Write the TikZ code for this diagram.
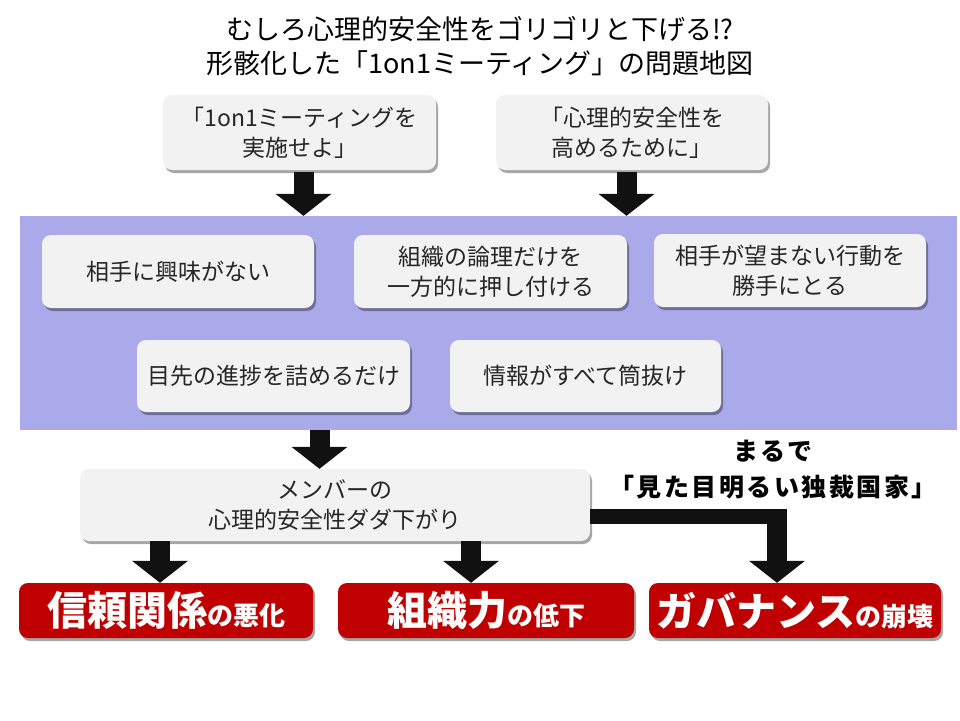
\documentclass[tikz,border=0pt]{standalone}
\usepackage{fontspec}
\newfontfamily\jp{Noto Sans CJK JP}
\newfontfamily\jpspaced[LetterSpace=10]{Noto Sans CJK JP}
\usetikzlibrary{arrows.meta,shadows}
\definecolor{bandcol}{RGB}{170,170,235}
\definecolor{boxgray}{RGB}{242,242,242}
\definecolor{txtgray}{RGB}{38,38,38}
\definecolor{darkred}{RGB}{192,0,0}
\definecolor{arrowblack}{RGB}{17,17,17}
\tikzset{
  softshadow/.style={drop shadow={shadow xshift=2pt, shadow yshift=-3pt, opacity=0.35, fill=black}},
  graybox/.style={fill=boxgray, rounded corners=9pt, softshadow, align=center, text=txtgray,
    font=\jp\fontsize{23}{30}\selectfont, inner sep=0pt},
  redbox/.style={fill=darkred, rounded corners=9pt, softshadow, align=center, text=white,
    font=\jp\bfseries, inner sep=0pt, minimum height=55pt},
  blockarrow/.style={draw=arrowblack, line width=20pt,
    -{Triangle[length=22pt 0 0, width=56pt 0 0, line width=0pt 0 0]}},
}
\newcommand{\bigpart}[1]{{\fontsize{40}{40}\selectfont #1}}
\newcommand{\smallpart}[1]{{\fontsize{26}{26}\selectfont #1}}
\begin{document}
\begin{tikzpicture}[x=1pt,y=-1pt]
\fill[white] (0,0) rectangle (960,720);
\useasboundingbox (0,0) rectangle (960,720);

% title
\node[align=center, font=\jp\fontsize{27}{34}\selectfont, text=black] (title) at (480,46)
  {むしろ心理的安全性をゴリゴリと下げる!?\\形骸化した「1on1ミーティング」の問題地図};

% top boxes
\node[graybox, minimum width=273pt, minimum height=75pt] (A) at (299.5,132.5)
  {「1on1ミーティングを\\実施せよ」};
\node[graybox, minimum width=272pt, minimum height=75pt] (B) at (632,132.5)
  {「心理的安全性を\\高めるために」};

% purple band
\node[fill=bandcol, minimum width=937pt, minimum height=214pt, inner sep=0pt] (band) at (488.5,323) {};

\node[graybox, minimum width=272pt, minimum height=73pt] (C1) at (178,271.5) {相手に興味がない};
\node[graybox, minimum width=273pt, minimum height=73pt] (C2) at (490.5,271.5) {組織の論理だけを\\一方的に押し付ける};
\node[graybox, minimum width=272pt, minimum height=73pt] (C3) at (790,270.5) {相手が望まない行動を\\勝手にとる};
\node[graybox, minimum width=273pt, minimum height=72pt] (C4) at (273.5,376) {目先の進捗を詰めるだけ};
\node[graybox, minimum width=271pt, minimum height=72pt] (C5) at (585.5,376) {情報がすべて筒抜け};

% member box
\node[graybox, minimum width=510pt, minimum height=72pt] (D) at (335,505) {メンバーの\\心理的安全性ダダ下がり};

% annotation
\node[font=\jpspaced\bfseries\fontsize{25}{36}\selectfont, text=black, align=center] (note) at (773,470)
  {まるで\\「見た目明るい独裁国家」};

% red result boxes
\node[redbox, minimum width=294pt] (R1) at (166,610.5) {\bigpart{信頼関係}\smallpart{の悪化}};
\node[redbox, minimum width=296pt] (R2) at (486,610.5) {\bigpart{組織力}\smallpart{の低下}};
\node[redbox, minimum width=292pt] (R3) at (795,610.5) {\bigpart{ガバナンス}\smallpart{の崩壊}};

% connectors
\coordinate (xa) at (303.5,0);
\coordinate (xb) at (626.5,0);
\coordinate (xm) at (319.5,0);
\coordinate (x1) at (160,0);
\coordinate (x2) at (471,0);
\draw[blockarrow] ([yshift=-2pt]xa |- A.south) -- (xa |- band.north);
\draw[blockarrow] ([yshift=-2pt]xb |- B.south) -- (xb |- band.north);
\draw[blockarrow] (xm |- band.south) -- (xm |- D.north);
\draw[blockarrow] (x1 |- D.south) -- (x1 |- R1.north);
\draw[blockarrow] (x2 |- D.south) -- (x2 |- R2.north);

\coordinate (e1) at ([yshift=-11.5pt]D.east);
\coordinate (xe) at (787,0);
\draw[arrowblack, line width=15pt] (e1) -- (xe |- e1);
\coordinate (v0) at (777,508.5);
\draw[blockarrow] (v0) -- (v0 |- R3.north);
\end{tikzpicture}
\end{document}
